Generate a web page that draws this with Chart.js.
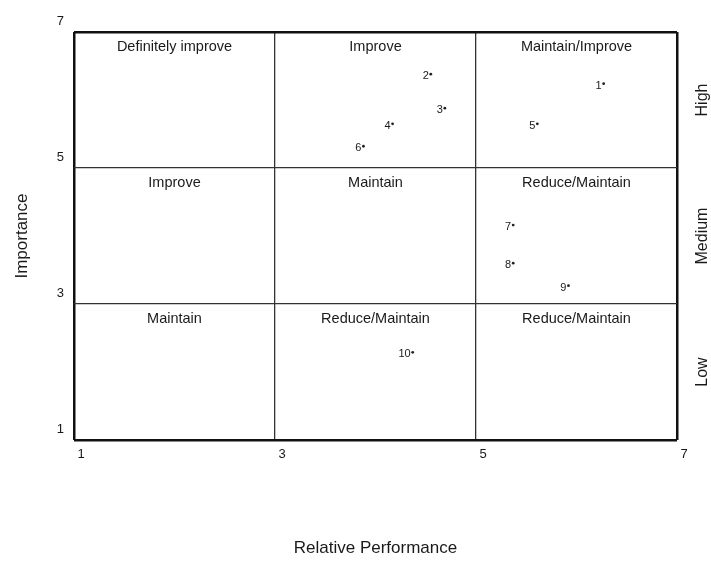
<!DOCTYPE html>
<html lang="en">
<head>
    <meta charset="UTF-8">
    <title>Importance vs Relative Performance</title>
    <script src="https://cdn.jsdelivr.net/npm/chart.js"></script>
    <style>
        html, body { margin: 0; padding: 0; background: #fff; }
        #wrap { width: 711px; height: 561px; }
    </style>
</head>
<body>
    <div id="wrap"><canvas id="grid" width="711" height="561"></canvas></div>

    <script>
        // point ids and their (performance, importance) positions
        const pointIds = ['1', '2', '3', '4', '5', '6', '7', '8', '9', '10'];
        const performance = [6.27, 4.55, 4.69, 4.17, 5.61, 3.88, 5.37, 5.37, 5.92, 4.37];
        const importance = [6.24, 6.38, 5.88, 5.65, 5.65, 5.32, 4.16, 3.60, 3.27, 2.29];

        const tickValues = [1, 3, 5, 7];
        const cellCentersX = [2, 4, 6];
        const cellTopsY = [7, 5, 3];
        const cellLabels = [
            ['Definitely improve', 'Improve', 'Maintain/Improve'],
            ['Improve', 'Maintain', 'Reduce/Maintain'],
            ['Maintain', 'Reduce/Maintain', 'Reduce/Maintain']
        ];
        const bandLabels = ['High', 'Medium', 'Low'];
        const bandCenters = [6, 4, 2];

        const FONT = '"Liberation Sans", Arial, sans-serif';

        const quadrantText = {
            id: 'quadrantText',
            afterDatasetsDraw(chart) {
                const { ctx, scales: { x, y }, chartArea } = chart;
                ctx.save();
                ctx.fillStyle = '#1a1a1a';
                ctx.textAlign = 'center';
                ctx.textBaseline = 'middle';
                ctx.font = '14.5px ' + FONT;
                cellLabels.forEach((row, r) => {
                    row.forEach((txt, c) => {
                        ctx.fillText(txt, x.getPixelForValue(cellCentersX[c]), y.getPixelForValue(cellTopsY[r]) + 15);
                    });
                });

                // point numbers
                ctx.font = '11px ' + FONT;
                ctx.textAlign = 'right';
                pointIds.forEach((id, i) => {
                    ctx.fillText(id, x.getPixelForValue(performance[i]) - 2, y.getPixelForValue(importance[i]) + 2);
                });

                // High / Medium / Low on the right
                ctx.font = '16px ' + FONT;
                bandLabels.forEach((txt, i) => {
                    ctx.save();
                    ctx.translate(703, y.getPixelForValue(bandCenters[i]));
                    ctx.rotate(-Math.PI / 2);
                    ctx.textAlign = 'center';
                    ctx.fillText(txt, 0, 0);
                    ctx.restore();
                });

                // axis titles
                ctx.font = '17px ' + FONT;
                ctx.textAlign = 'center';
                ctx.fillText('Relative Performance', (chartArea.left + chartArea.right) / 2, 548);
                ctx.save();
                ctx.translate(22, (chartArea.top + chartArea.bottom) / 2);
                ctx.rotate(-Math.PI / 2);
                ctx.fillText('Importance', 0, 0);
                ctx.restore();
                ctx.restore();
            }
        };

        const gridWidth = c => (c.tick && (c.tick.value === 1 || c.tick.value === 7)) ? 2.5 : 1.3;
        const gridColor = c => (c.tick && (c.tick.value === 1 || c.tick.value === 7)) ? '#111' : '#333';

        new Chart(document.getElementById('grid'), {
            type: 'scatter',
            data: {
                datasets: [{
                    data: performance.map((v, i) => ({ x: v, y: importance[i] })),
                    pointRadius: 1.4,
                    pointBackgroundColor: '#222',
                    pointBorderWidth: 0
                }]
            },
            options: {
                responsive: false,
                animation: false,
                layout: { padding: { left: 0, top: 32, right: 34, bottom: 0 } },
                plugins: { legend: { display: false }, tooltip: { enabled: false } },
                scales: {
                    x: {
                        min: 1, max: 7,
                        afterFit: s => { s.height = 121; },
                        afterBuildTicks: s => { s.ticks = tickValues.map(v => ({ value: v })); },
                        border: { display: false },
                        grid: { drawTicks: false, lineWidth: gridWidth, color: gridColor },
                        ticks: { padding: 7, labelOffset: 7, color: '#1a1a1a', font: { family: FONT, size: 13 } }
                    },
                    y: {
                        min: 1, max: 7,
                        afterFit: s => { s.width = 74; },
                        afterBuildTicks: s => { s.ticks = tickValues.map(v => ({ value: v })); },
                        border: { display: false },
                        grid: { drawTicks: false, lineWidth: gridWidth, color: gridColor },
                        ticks: { padding: 10, labelOffset: -11, color: '#1a1a1a', font: { family: FONT, size: 13 } }
                    }
                }
            },
            plugins: [quadrantText]
        });
    </script>
</body>
</html>
